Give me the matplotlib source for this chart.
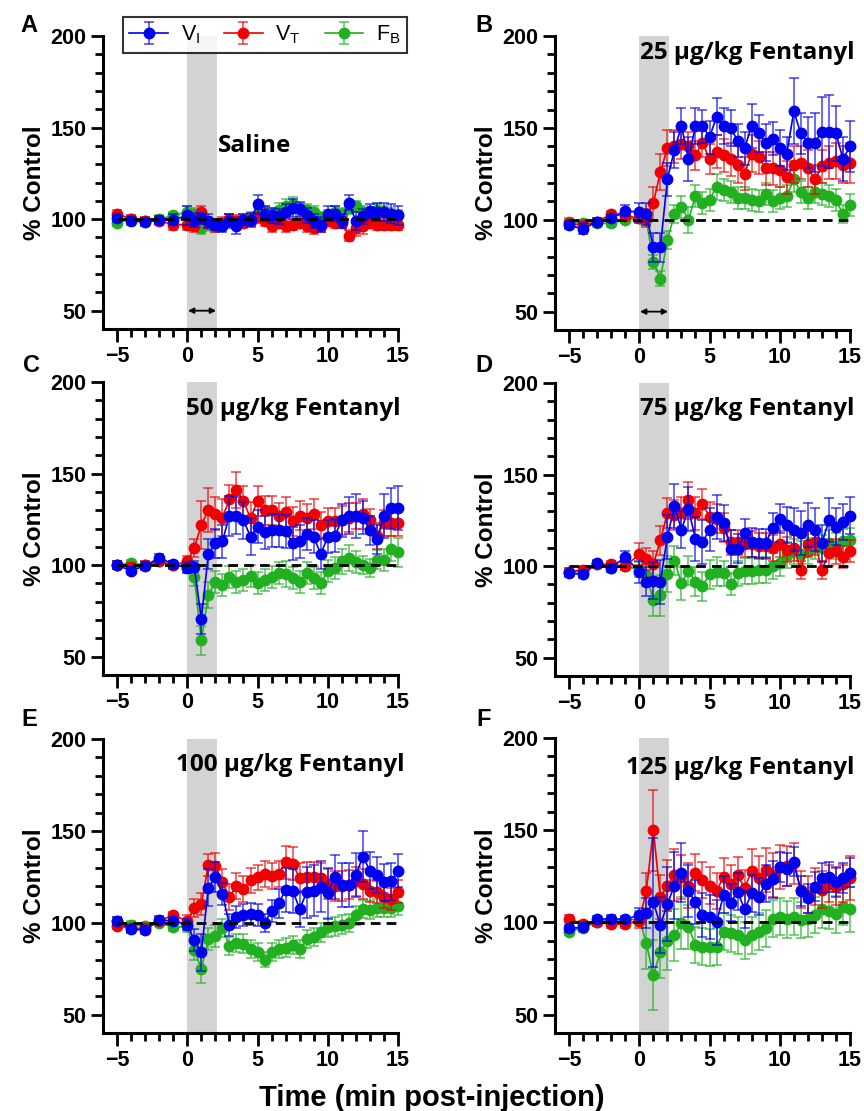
import matplotlib
matplotlib.use("Agg")
import matplotlib.pyplot as plt
from matplotlib.ticker import FixedLocator

# ---------------- data ----------------
time = [-5, -4, -3, -2, -1,
        0, 0.5, 1, 1.5, 2, 2.5, 3, 3.5, 4, 4.5, 5, 5.5, 6, 6.5, 7, 7.5,
        8, 8.5, 9, 9.5, 10, 10.5, 11, 11.5, 12, 12.5, 13, 13.5, 14, 14.5, 15]

series_names = [r"V$_\mathregular{I}$", r"V$_\mathregular{T}$", r"F$_\mathregular{B}$"]
panel_letters = ["A", "B", "C", "D", "E", "F"]
panel_titles = ["Saline", "25 µg/kg Fentanyl", "50 µg/kg Fentanyl",
                "75 µg/kg Fentanyl", "100 µg/kg Fentanyl", "125 µg/kg Fentanyl"]

# Panel A (saline)
A_vi = [100.5, 99, 98.5, 99.6, 99.6, 102, 99.6, 100.5, 99, 97, 96, 99, 96, 99.6, 99.6, 108, 103, 102, 101.5, 104, 106, 105.6, 102, 99, 97, 103, 103, 99, 109, 99, 101.5, 104.5, 104, 104, 103, 102]
A_vt = [103, 100, 99, 99, 97, 97, 96, 104, 98, 96, 98, 100, 99, 98, 99, 101, 99, 96, 98, 96, 97, 98, 96, 95, 96, 99, 98, 98, 91, 95, 96, 98, 97, 97, 97, 97]
A_fb = [98, 100, 99, 100, 102, 104, 103, 95, 97, 96, 97, 100, 98, 100, 101, 103, 104, 103, 105, 107, 108, 106, 105, 104, 101, 102, 104, 103, 106, 107, 104, 103, 105, 104, 103, 102]
A_vi_err = [2, 2, 2, 2, 3, 5, 4, 3, 4, 3, 3, 4, 4, 3, 4, 5, 4, 4, 4, 4, 5, 4, 4, 4, 4, 4, 4, 4, 4, 5, 4, 4, 5, 5, 5, 5]
A_vt_err = [2, 2, 2, 2, 3, 3, 3, 3, 3, 3, 3, 3, 3, 3, 3, 3, 3, 3, 3, 3, 3, 3, 3, 3, 3, 3, 3, 3, 3, 4, 4, 3, 3, 3, 3, 3]
A_fb_err = [2, 2, 2, 2, 2, 3, 3, 3, 3, 3, 3, 3, 3, 3, 3, 3, 3, 3, 4, 4, 4, 3, 3, 3, 3, 3, 3, 3, 3, 3, 3, 3, 3, 3, 3, 3]

# Panel B (25 ug/kg)
B_vi = [97, 95, 99, 101, 105, 104, 103, 85, 85, 122, 138, 151, 133, 151, 151, 145, 156, 151, 150, 143, 139, 151, 147, 142, 144, 139, 136, 159, 147, 142, 142, 148, 148, 147, 133, 140]
B_vt = [98, 97, 99, 103, 102, 101, 101, 109, 126, 139, 140, 141, 140, 135, 142, 133, 137, 135, 133, 130, 125, 136, 134, 128, 128, 127, 123, 130, 131, 128, 122, 129, 131, 132, 130, 131]
B_fb = [99, 98, 98, 98, 100, 101, 100, 77, 68, 89, 103, 107, 100, 113, 109, 111, 118, 116, 115, 112, 112, 111, 110, 114, 110, 112, 113, 122, 115, 112, 115, 114, 113, 111, 103, 108]
B_vi_err = [2, 3, 2, 2, 3, 5, 6, 8, 8, 9, 10, 10, 12, 10, 9, 9, 10, 10, 10, 9, 9, 12, 10, 10, 9, 10, 9, 18, 11, 14, 16, 19, 20, 15, 12, 14]
B_vt_err = [2, 2, 2, 2, 2, 3, 5, 9, 10, 10, 9, 8, 8, 8, 8, 8, 9, 9, 9, 10, 9, 10, 9, 9, 9, 9, 9, 10, 9, 10, 8, 9, 9, 10, 10, 11]
B_fb_err = [2, 2, 2, 2, 2, 3, 3, 4, 4, 5, 5, 6, 7, 6, 6, 6, 7, 6, 6, 6, 6, 6, 6, 6, 6, 6, 6, 7, 6, 6, 6, 6, 6, 6, 5, 6]

# Panel C (50 ug/kg)
C_vi = [100, 97, 99.6, 104, 100.5, 98.5, 99, 70.5, 106, 112, 113, 127, 127, 124.5, 115.5, 121, 118, 119, 119, 118.5, 112, 113, 117, 115.5, 106, 115.5, 116, 124.5, 127, 127, 126, 119, 114, 127, 131, 131]
C_vt = [100, 99, 100, 102, 100, 102, 109.5, 122, 130, 128, 126, 136, 141, 135, 125.5, 135, 130, 130, 127, 129, 124, 127, 125.5, 128, 122, 124, 124, 124.5, 126, 127, 128, 124.5, 116, 123, 123, 123]
C_fb = [100, 101, 100, 102, 100, 99, 93.6, 59, 83.6, 91, 89, 93.6, 91, 92, 94, 90, 92, 93.6, 95.5, 95, 93, 91, 95.5, 93, 90, 97, 98.5, 102, 104, 101.5, 100, 98.5, 103, 103, 109, 107]
C_vi_err = [2, 2, 2, 2, 2, 3, 3, 8, 8, 8, 9, 11, 10, 10, 10, 9, 9, 9, 9, 9, 9, 9, 9, 9, 8, 9, 9, 9, 10, 12, 9, 8, 8, 12, 11, 12]
C_vt_err = [2, 2, 2, 2, 2, 3, 5, 13, 12, 9, 10, 8, 10, 8, 9, 8, 8, 8, 7, 8, 8, 8, 8, 8, 7, 7, 7, 8, 8, 7, 8, 6, 7, 7, 7, 7]
C_fb_err = [2, 2, 2, 2, 2, 3, 5, 8, 7, 6, 6, 6, 6, 6, 6, 6, 6, 6, 6, 7, 6, 6, 6, 6, 6, 6, 6, 7, 7, 6, 5, 5, 5, 6, 7, 8]

# Panel D (75 ug/kg)
D_vi = [96, 95.6, 101.6, 99, 105, 97, 91.6, 92, 91.3, 116, 132.7, 120, 131, 115, 113, 120, 127, 123.5, 109.5, 109.5, 118, 113, 112.5, 112.5, 121, 126, 122.5, 120, 118, 122.5, 120, 112.5, 125, 121.6, 124, 127.6]
D_vt = [97, 98, 101, 101, 100, 106.5, 104, 101, 114, 129, 128, 129, 136, 129, 134, 127, 126, 121, 113, 113, 112, 112, 111, 111, 110, 112, 109, 110, 98, 112, 113, 98, 107, 108, 105, 108]
D_fb = [97, 97, 101, 99, 100, 98, 95, 81.6, 84, 95.6, 103, 90.7, 97.5, 91.6, 89, 95.6, 97, 96, 90, 96, 97.5, 97.5, 98, 98, 100, 101.6, 106, 108, 106.5, 108.4, 110.7, 110, 112.5, 111, 113.5, 114]
D_vi_err = [2, 2, 2, 2, 3, 6, 8, 10, 12, 12, 12, 10, 12, 12, 12, 12, 12, 10, 10, 8, 8, 8, 8, 8, 8, 8, 10, 12, 12, 12, 12, 10, 12, 10, 10, 10]
D_vt_err = [2, 2, 2, 2, 2, 6, 6, 7, 8, 8, 8, 9, 10, 9, 8, 8, 8, 8, 7, 7, 7, 7, 7, 7, 7, 7, 7, 7, 5, 7, 7, 5, 7, 7, 6, 6]
D_fb_err = [2, 2, 2, 2, 2, 4, 6, 9, 11, 10, 8, 9, 8, 8, 8, 8, 8, 7, 6, 7, 7, 7, 7, 7, 7, 7, 7, 7, 7, 7, 7, 7, 7, 7, 7, 7]

# Panel E (100 ug/kg)
E_vi = [101, 96.5, 96, 101.5, 101, 99, 90.5, 84, 119, 125, 115.6, 99, 103, 104, 105, 104.4, 100, 106.5, 110.5, 118, 117.5, 107.5, 116.5, 117.5, 119.6, 116, 124.7, 120.7, 120.7, 126, 136, 128.4, 126, 122, 122.5, 128.4]
E_vt = [98.4, 97, 97, 101, 104, 101, 108, 110, 131.6, 131, 122, 114, 120, 118.4, 123, 124.7, 126.5, 125.6, 126.5, 133, 132, 124.4, 125, 125, 124.4, 121, 120, 120, 120.7, 122.5, 121, 117.5, 116.5, 114, 113, 117]
E_fb = [101, 99, 98, 100, 97.5, 98, 85, 75, 91, 93, 97, 87.5, 89, 88.7, 85.6, 84, 80, 84, 85.6, 86.5, 88, 85.6, 91, 92.4, 94.7, 97.5, 98, 99, 100, 104, 107.5, 107, 108, 108, 108, 109]
E_vi_err = [2, 2, 2, 2, 2, 3, 6, 10, 10, 8, 6, 6, 6, 6, 6, 6, 5, 6, 8, 12, 12, 10, 14, 14, 14, 14, 12, 12, 12, 12, 14, 10, 10, 10, 10, 9]
E_vt_err = [2, 2, 2, 2, 2, 3, 5, 6, 6, 7, 7, 7, 7, 7, 7, 7, 7, 7, 7, 9, 9, 8, 8, 8, 8, 8, 8, 8, 8, 8, 8, 6, 6, 6, 6, 6]
E_fb_err = [2, 2, 2, 2, 2, 3, 5, 8, 6, 6, 5, 5, 5, 5, 5, 5, 4, 5, 5, 5, 5, 5, 5, 5, 5, 5, 5, 5, 5, 5, 5, 5, 5, 5, 5, 5]

# Panel F (125 ug/kg)
F_vi = [96.7, 97.3, 101.6, 102, 101.6, 104, 105, 111, 98.5, 110, 120, 127, 117, 111, 104, 103, 100, 115, 110.7, 116.7, 107, 115.7, 114, 121, 123.4, 130, 128.8, 133, 117, 113, 119.4, 124, 124.5, 122, 124, 127]
F_vt = [102, 99, 100, 99, 99, 101, 117, 150, 113.6, 120, 125.7, 124.8, 120, 127, 123, 120, 117, 124.8, 121, 125.7, 118.5, 128, 124, 128.4, 125.7, 130, 130.6, 132, 117.6, 115, 119.4, 117.6, 121, 119.4, 121, 124]
F_fb = [95, 97, 100, 101.5, 101, 102, 88.6, 71.4, 84, 90, 93, 99.5, 97.6, 87.7, 86.8, 86.4, 86.8, 95, 94, 93, 90.4, 93, 95, 96.7, 102, 103, 101.6, 103, 101.3, 102, 104, 107, 106.3, 104.5, 108.5, 107]
F_vi_err = [2, 2, 2, 2, 2, 4, 8, 35, 15, 20, 18, 16, 14, 12, 12, 12, 12, 10, 10, 10, 10, 10, 10, 10, 10, 8, 9, 8, 8, 8, 8, 8, 8, 8, 8, 8]
F_vt_err = [2, 2, 2, 2, 2, 4, 10, 22, 12, 14, 14, 12, 12, 10, 10, 10, 10, 10, 10, 10, 10, 12, 12, 12, 12, 12, 11, 11, 10, 10, 10, 10, 10, 10, 10, 12]
F_fb_err = [2, 2, 2, 2, 2, 4, 14, 19, 14, 16, 14, 14, 12, 10, 10, 10, 10, 10, 10, 10, 10, 10, 10, 10, 10, 10, 10, 10, 10, 10, 10, 10, 10, 10, 10, 12]

panels = [
    (A_vi, A_vt, A_fb, A_vi_err, A_vt_err, A_fb_err),
    (B_vi, B_vt, B_fb, B_vi_err, B_vt_err, B_fb_err),
    (C_vi, C_vt, C_fb, C_vi_err, C_vt_err, C_fb_err),
    (D_vi, D_vt, D_fb, D_vi_err, D_vt_err, D_fb_err),
    (E_vi, E_vt, E_fb, E_vi_err, E_vt_err, E_fb_err),
    (F_vi, F_vt, F_fb, F_vi_err, F_vt_err, F_fb_err),
]

# ---------------- style ----------------
colors = ["#0000f0", "#f00000", "#20b020"]
TICKFONT = "Liberation Sans"
TITLEFONT = "Open Sans"

# axes rectangles in pixels (left, top, right, bottom)
W, H = 864, 1111
boxes = [(103, 36, 398, 329), (555, 36, 850, 330),
         (103, 382, 398, 675), (555, 383, 850, 676),
         (103, 739, 398, 1033), (555, 738, 850, 1033)]
letter_pos = [(29, 25), (484, 25), (31, 366), (484, 366), (29, 720), (484, 720)]
title_y = [140, 191, 185, 186, 186, 184]
title_x = [2.2, 15.3, 15.2, 15.3, 15.5, 15.3]
title_ha = ["left", "right", "right", "right", "right", "right"]

fig = plt.figure(figsize=(W / 100, H / 100), dpi=100)

handles = []
for i, (box, data) in enumerate(zip(boxes, panels)):
    l, t, r, b = box
    ax = fig.add_axes([l / W, 1 - b / H, (r - l) / W, (b - t) / H])
    ax.set_xlim(-6, 15)
    ax.set_ylim(40, 200)
    ax.axvspan(0, 2.1, color="#d3d3d3", lw=0, zorder=0)

    vals = data[:3]
    errs = data[3:]
    order = [2, 1, 0]
    for k in order:
        eb = ax.errorbar(time, vals[k], yerr=errs[k], color=colors[k], marker="o",
                         ms=7.5, lw=1.2, elinewidth=1.2, capsize=3.5, capthick=1.2,
                         ecolor=colors[k] + "b0", zorder=3 + (2 - k), clip_on=False)
        if i == 0:
            handles.append((k, eb))
    ax.plot([-5, 15], [100, 100], color="black", lw=2.0, ls=(0, (3.5, 2.2)), zorder=10)

    if i < 2:
        ax.annotate("", xy=(2.05, 50), xytext=(0.05, 50),
                    arrowprops=dict(arrowstyle="<|-|>", color="black", lw=1.3,
                                    mutation_scale=8, shrinkA=0, shrinkB=0), zorder=11)

    for s in ["top", "right"]:
        ax.spines[s].set_visible(False)
    for s in ["left", "bottom"]:
        ax.spines[s].set_linewidth(2.2)
    ax.yaxis.set_major_locator(FixedLocator([50, 100, 150, 200]))
    ax.yaxis.set_minor_locator(FixedLocator([60, 70, 80, 90, 110, 120, 130, 140, 160, 170, 180, 190]))
    ax.xaxis.set_major_locator(FixedLocator([-5, 0, 5, 10, 15]))
    ax.xaxis.set_minor_locator(FixedLocator([v for v in range(-4, 15) if v % 5 != 0]))
    ax.tick_params(which="major", direction="out", length=9, width=2.0, pad=3)
    ax.tick_params(which="minor", direction="out", length=5.5, width=2.0)
    for lab in ax.get_xticklabels() + ax.get_yticklabels():
        lab.set_fontfamily(TICKFONT)
        lab.set_fontweight("bold")
        lab.set_fontsize(15.5)
    ax.set_ylabel("% Control", fontfamily=TICKFONT, fontweight="bold", fontsize=17.5, labelpad=3)

    ax.text(title_x[i], title_y[i], panel_titles[i], ha=title_ha[i], va="center",
            fontfamily=TITLEFONT, fontweight="bold", fontsize=17.5, zorder=12)
    lx, ly = letter_pos[i]
    fig.text(lx / W, 1 - ly / H, panel_letters[i], ha="center", va="center",
             fontfamily=TICKFONT, fontweight="bold", fontsize=17)

handles = [h for k, h in sorted(handles, key=lambda x: x[0])]
leg = fig.legend(handles, series_names, loc="center", ncol=3,
                 bbox_to_anchor=(265 / W, 1 - 35 / H),
                 prop={"family": TICKFONT, "size": 15.5},
                 frameon=True, fancybox=False, edgecolor="black",
                 handlelength=1.8, handletextpad=0.6, columnspacing=1.1,
                 borderpad=0.3)
leg.get_frame().set_linewidth(1.5)

fig.text(432 / W, 1 - 1098 / H, "Time (min post-injection)", ha="center", va="center",
         fontfamily=TICKFONT, fontweight="bold", fontsize=21)

fig.savefig("out.png", dpi=100)
